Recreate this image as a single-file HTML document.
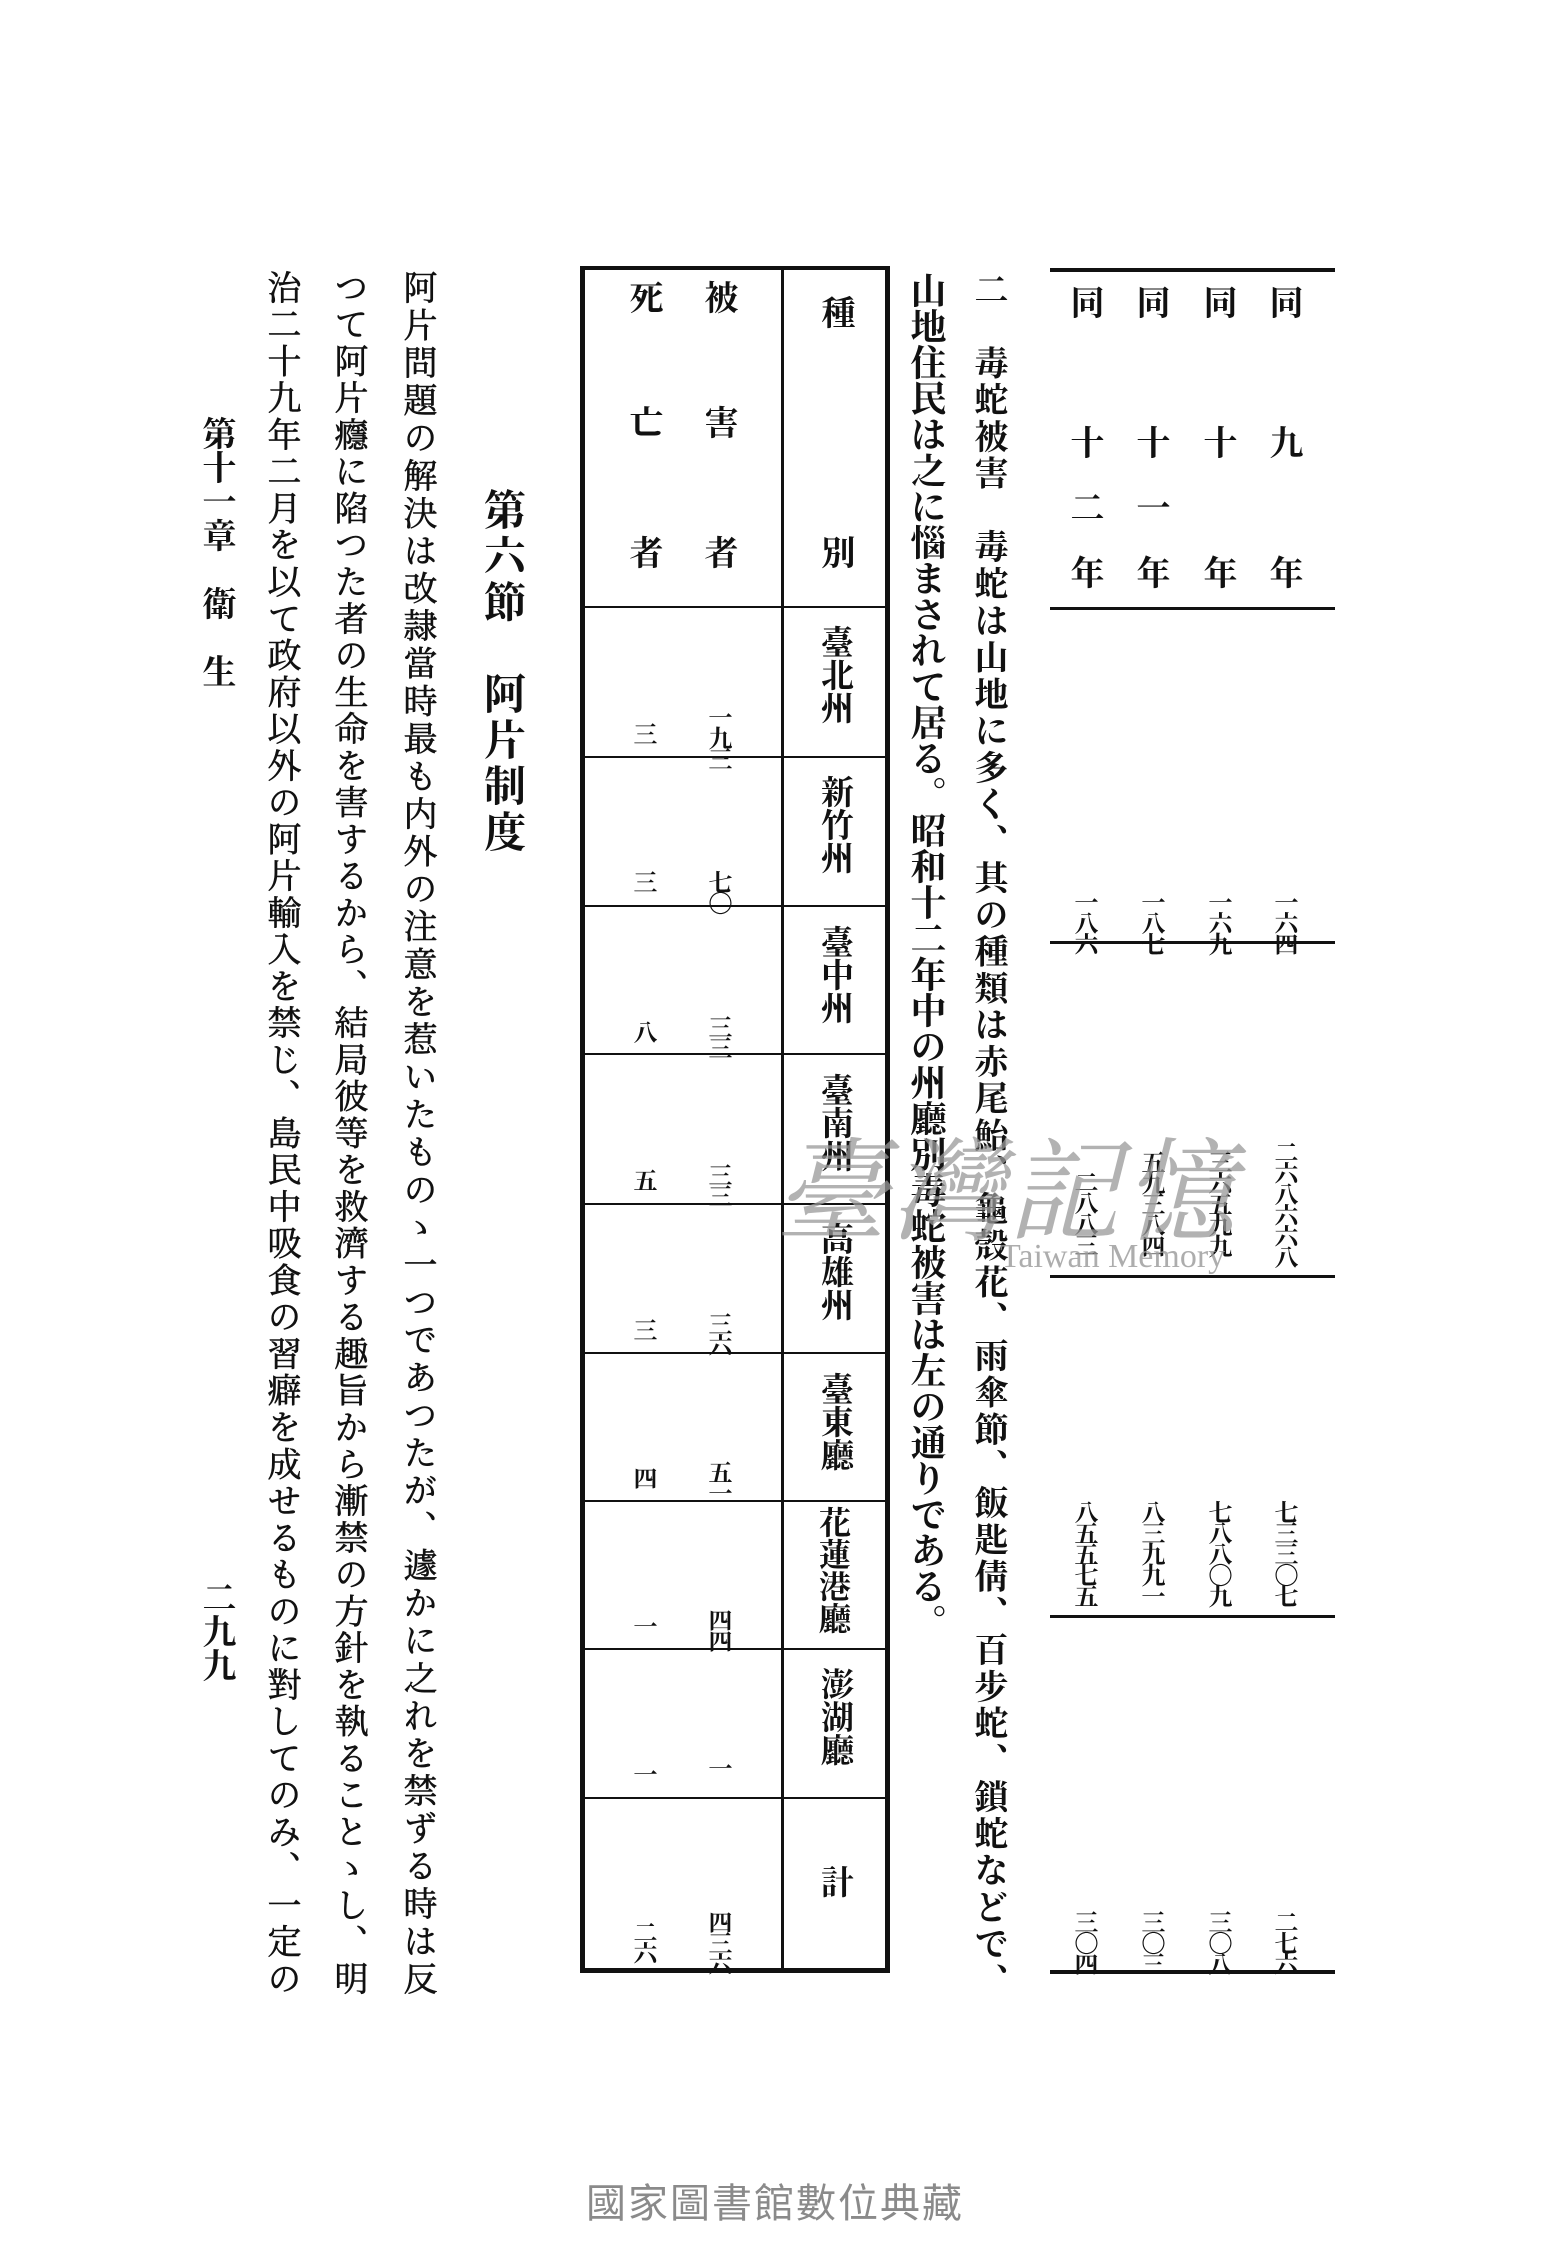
<!DOCTYPE html>
<html><head><meta charset="utf-8">
<style>
html,body{margin:0;padding:0;background:#fff;}
body{width:1550px;height:2250px;position:relative;overflow:hidden;}
.v{position:absolute;writing-mode:vertical-rl;font-family:"Liberation Serif","Noto Serif CJK JP","Noto Serif CJK SC",serif;color:#111;font-weight:bold;white-space:nowrap;line-height:1;}
.j{text-align:justify;text-align-last:justify;}
.hl{position:absolute;background:#111;}
.n{font-size:24px;letter-spacing:-3px;}
</style></head><body>

<div class="hl" style="left:1050px;top:268px;width:285px;height:4px"></div>
<div class="hl" style="left:1050px;top:607px;width:285px;height:3px"></div>
<div class="hl" style="left:1050px;top:941px;width:285px;height:3px"></div>
<div class="hl" style="left:1050px;top:1275px;width:285px;height:3px"></div>
<div class="hl" style="left:1050px;top:1615px;width:285px;height:3px"></div>
<div class="hl" style="left:1050px;top:1970px;width:285px;height:4px"></div>

<div class="v" style="left:1265px;top:285px;font-size:34px">同</div>
<div class="v" style="left:1265px;top:425px;font-size:34px">九</div>
<div class="v" style="left:1265px;top:555px;font-size:34px">年</div>
<div class="v" style="left:1199px;top:285px;font-size:34px">同</div>
<div class="v" style="left:1199px;top:425px;font-size:34px">十</div>
<div class="v" style="left:1199px;top:555px;font-size:34px">年</div>
<div class="v" style="left:1132px;top:285px;font-size:34px">同</div>
<div class="v" style="left:1132px;top:425px;font-size:34px">十</div>
<div class="v" style="left:1132px;top:490px;font-size:34px">一</div>
<div class="v" style="left:1132px;top:555px;font-size:34px">年</div>
<div class="v" style="left:1066px;top:285px;font-size:34px">同</div>
<div class="v" style="left:1066px;top:425px;font-size:34px">十</div>
<div class="v" style="left:1066px;top:490px;font-size:34px">二</div>
<div class="v" style="left:1066px;top:555px;font-size:34px">年</div>

<div class="v n" style="left:1271px;top:890px">一六四</div>
<div class="v n" style="left:1205px;top:890px">一六九</div>
<div class="v n" style="left:1138px;top:890px">一八七</div>
<div class="v n" style="left:1071px;top:890px">一八六</div>

<div class="v n" style="left:1271px;top:1140px">二六八六六八</div>
<div class="v n" style="left:1205px;top:1150px">三六五九九</div>
<div class="v n" style="left:1138px;top:1150px">五九三八四</div>
<div class="v n" style="left:1071px;top:1170px">二八八三</div>

<div class="v n" style="left:1271px;top:1500px">七三三〇七</div>
<div class="v n" style="left:1205px;top:1500px">七八八〇九</div>
<div class="v n" style="left:1138px;top:1500px">八三九九一</div>
<div class="v n" style="left:1071px;top:1500px">八五五七五</div>

<div class="v n" style="left:1271px;top:1910px">二七六</div>
<div class="v n" style="left:1205px;top:1910px">三〇八</div>
<div class="v n" style="left:1138px;top:1910px">三〇三</div>
<div class="v n" style="left:1071px;top:1910px">三〇四</div>

<div class="v j" style="left:970px;top:272px;height:1725px;font-size:34px">二　毒蛇被害　毒蛇は山地に多く、其の種類は赤尾鮐、龜殼花、雨傘節、飯匙倩、百步蛇、鎖蛇などで、</div>
<div class="v" style="left:908px;top:272px;font-size:36px">山地住民は之に惱まされて居る。昭和十二年中の州廳別毒蛇被害は左の通りである。</div>

<div style="position:absolute;left:580px;top:266px;width:300px;height:1698px;border:5px solid #111;border-top-width:4px;"></div>
<div class="hl" style="left:781px;top:268px;width:3px;height:1700px"></div>
<div class="hl" style="left:585px;top:606px;width:300px;height:2px"></div>
<div class="hl" style="left:585px;top:756px;width:300px;height:2px"></div>
<div class="hl" style="left:585px;top:905px;width:300px;height:2px"></div>
<div class="hl" style="left:585px;top:1053px;width:300px;height:2px"></div>
<div class="hl" style="left:585px;top:1203px;width:300px;height:2px"></div>
<div class="hl" style="left:585px;top:1352px;width:300px;height:2px"></div>
<div class="hl" style="left:585px;top:1500px;width:300px;height:2px"></div>
<div class="hl" style="left:585px;top:1648px;width:300px;height:2px"></div>
<div class="hl" style="left:585px;top:1797px;width:300px;height:2px"></div>

<div class="v" style="left:817px;top:295px;font-size:34px">種</div>
<div class="v" style="left:817px;top:535px;font-size:34px">別</div>
<div class="v" style="left:700px;top:280px;font-size:34px">被</div>
<div class="v" style="left:700px;top:405px;font-size:34px">害</div>
<div class="v" style="left:700px;top:535px;font-size:34px">者</div>
<div class="v" style="left:625px;top:280px;font-size:34px">死</div>
<div class="v" style="left:625px;top:405px;font-size:34px">亡</div>
<div class="v" style="left:625px;top:535px;font-size:34px">者</div>

<div class="v" style="left:817px;top:625px;font-size:33px">臺北州</div>
<div class="v" style="left:817px;top:775px;font-size:33px">新竹州</div>
<div class="v" style="left:817px;top:925px;font-size:33px">臺中州</div>
<div class="v" style="left:817px;top:1073px;font-size:33px">臺南州</div>
<div class="v" style="left:817px;top:1222px;font-size:33px">高雄州</div>
<div class="v" style="left:817px;top:1372px;font-size:33px">臺東廳</div>
<div class="v" style="left:817px;top:1506px;font-size:32px">花蓮港廳</div>
<div class="v" style="left:817px;top:1667px;font-size:33px">澎湖廳</div>
<div class="v" style="left:817px;top:1865px;font-size:33px">計</div>

<div class="v n" style="left:705px;top:705px">一九三</div>
<div class="v n" style="left:705px;top:870px">七〇</div>
<div class="v n" style="left:705px;top:1015px">三三</div>
<div class="v n" style="left:705px;top:1163px">三三</div>
<div class="v n" style="left:705px;top:1312px">三六</div>
<div class="v n" style="left:705px;top:1460px">五一</div>
<div class="v n" style="left:705px;top:1608px">四四</div>
<div class="v n" style="left:705px;top:1756px">一</div>
<div class="v n" style="left:705px;top:1910px">四三六</div>

<div class="v n" style="left:630px;top:722px">三</div>
<div class="v n" style="left:630px;top:870px">三</div>
<div class="v n" style="left:630px;top:1020px">八</div>
<div class="v n" style="left:630px;top:1168px">五</div>
<div class="v n" style="left:630px;top:1318px">三</div>
<div class="v n" style="left:630px;top:1466px">四</div>
<div class="v n" style="left:630px;top:1614px">一</div>
<div class="v n" style="left:630px;top:1762px">一</div>
<div class="v n" style="left:630px;top:1920px">二六</div>

<div class="v" style="left:480px;top:488px;font-size:42px;letter-spacing:4px">第六節　阿片制度</div>

<div class="v j" style="left:399px;top:270px;height:1725px;font-size:34px;font-weight:normal;-webkit-text-stroke:0.6px #111">阿片問題の解決は改隷當時最も内外の注意を惹いたものゝ一つであつたが、遽かに之れを禁ずる時は反</div>
<div class="v j" style="left:330px;top:270px;height:1725px;font-size:34px;font-weight:normal;-webkit-text-stroke:0.6px #111">つて阿片癮に陷つた者の生命を害するから、結局彼等を救濟する趣旨から漸禁の方針を執ることゝし、明</div>
<div class="v j" style="left:263px;top:270px;height:1725px;font-size:34px;font-weight:normal;-webkit-text-stroke:0.6px #111">治二十九年二月を以て政府以外の阿片輸入を禁じ、島民中吸食の習癖を成せるものに對してのみ、一定の</div>

<div class="v" style="left:198px;top:416px;font-size:34px">第十一章　衛　生</div>
<div class="v" style="left:198px;top:1580px;font-size:34px">二九九</div>

<div style="position:absolute;left:775px;top:1128px;font-family:'Noto Serif CJK SC',serif;font-size:112px;color:#999;opacity:0.75;letter-spacing:4px;font-style:italic;line-height:1">臺灣記憶</div>
<div style="position:absolute;left:1000px;top:1240px;font-family:'Liberation Serif',serif;font-size:34px;color:#999;opacity:0.8;line-height:1">Taiwan Memory</div>

<div style="position:absolute;left:0;width:1550px;top:2184px;text-align:center;font-family:'Liberation Sans','Noto Sans CJK TC',sans-serif;font-size:40px;color:#8a8a8a;letter-spacing:2px;line-height:1">國家圖書館數位典藏</div>

</body></html>
